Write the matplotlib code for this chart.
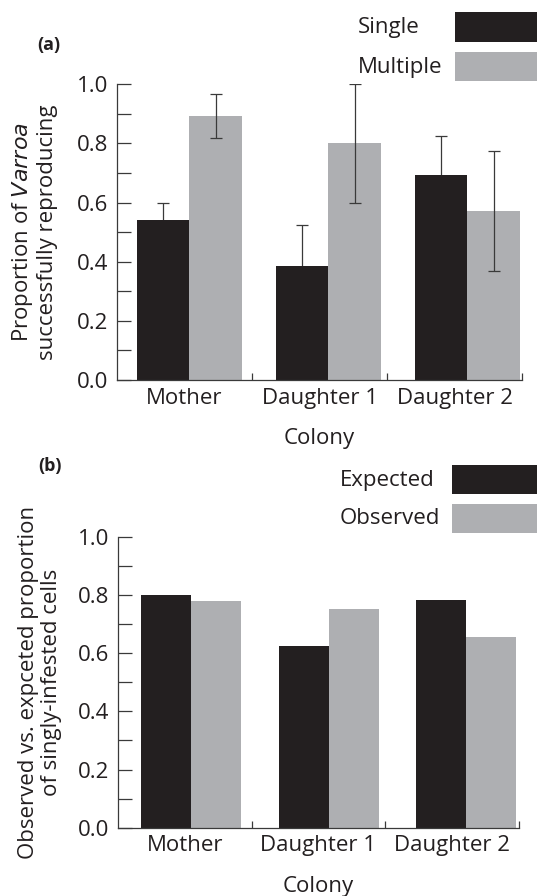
import matplotlib
matplotlib.use("Agg")
import matplotlib.pyplot as plt
from matplotlib.patches import Rectangle
from matplotlib.ticker import MultipleLocator, FixedLocator
import numpy as np

plt.rcParams["font.family"] = ["Open Sans", "DejaVu Sans"]

# ── data ─────────────────────────────────────────────────────────────────────
colonies = ["Mother", "Daughter 1", "Daughter 2"]

single_prop   = [0.54, 0.385, 0.693]
single_err    = [0.06, 0.14, 0.133]
multiple_prop = [0.893, 0.80, 0.571]
multiple_err  = [0.073, 0.20, 0.203]

expected_prop = [0.80, 0.625, 0.783]
observed_prop = [0.779, 0.752, 0.656]

BLACK = "#231f20"
GREY  = "#aeafb2"
LINE  = "#3a3a3a"
FS    = 16

fig = plt.figure(figsize=(5.37, 8.96), dpi=100)
fig.patch.set_facecolor("white")

ax_a = fig.add_axes([0.2179, 0.5759, 0.7542, 0.3300])
ax_b = fig.add_axes([0.2197, 0.0762, 0.7468, 0.3248])


def style_axis(ax, ylabel, label_x):
    ax.set_xlim(-0.5, 2.5)
    ax.set_ylim(0, 1.0)
    for s in ("top", "right"):
        ax.spines[s].set_visible(False)
    for s in ("left", "bottom"):
        ax.spines[s].set_linewidth(0.9)
        ax.spines[s].set_color(LINE)
    ax.yaxis.set_major_locator(MultipleLocator(0.2))
    ax.yaxis.set_minor_locator(MultipleLocator(0.1))
    ax.yaxis.set_major_formatter(matplotlib.ticker.FormatStrFormatter("%.1f"))
    ax.tick_params(axis="y", which="both", direction="in", length=9.8,
                   width=0.9, color=LINE, labelsize=FS, pad=6)
    ax.set_xticks(range(len(colonies)))
    ax.set_xticklabels(colonies, fontsize=FS, color="#231f20")
    ax.xaxis.set_minor_locator(FixedLocator([0.5, 1.5, 2.5]))
    ax.tick_params(axis="x", which="major", length=0, pad=5.5)
    ax.tick_params(axis="x", which="minor", direction="in", length=5,
                   width=0.9, color=LINE)
    ax.set_xlabel("Colony", fontsize=FS, labelpad=14, color="#231f20")
    ax.set_ylabel(ylabel, fontsize=FS, linespacing=1.1, color="#231f20")
    ax.yaxis.set_label_coords(label_x, 0.5)
    for lab in ax.get_yticklabels():
        lab.set_color("#231f20")


x = np.arange(len(colonies)) * 1.03

# ── panel (a) ────────────────────────────────────────────────────────────────
w_a = 0.39
ax_a.bar(x - 0.159, single_prop, width=w_a, color=BLACK, zorder=2)
ax_a.bar(x - 0.159 + w_a, multiple_prop, width=w_a, color=GREY, zorder=2)
# error bars of black bars sit behind them, so only the upper arm shows
ax_a.errorbar(x - 0.159, single_prop, yerr=single_err, fmt="none",
              ecolor=LINE, elinewidth=0.9, capsize=4.3, capthick=0.9, zorder=1)
ax_a.errorbar(x - 0.159 + w_a, multiple_prop, yerr=multiple_err, fmt="none",
              ecolor=LINE, elinewidth=0.9, capsize=4.3, capthick=0.9, zorder=3)
style_axis(ax_a, "Proportion of $\\it{Varroa}$\nsuccessfully reproducing", -0.146)

# ── panel (b) ────────────────────────────────────────────────────────────────
w_b = 0.374
ax_b.bar(x - 0.141, expected_prop, width=w_b, color=BLACK, zorder=2)
ax_b.bar(x - 0.141 + w_b, observed_prop, width=w_b, color=GREY, zorder=2)
style_axis(ax_b, "Observed vs. expceted proportion\nof singly-infested cells", -0.140)

# ── legends & panel letters (figure coords) ──────────────────────────────────
W, H = 537, 896


def swatch(x0, y0, x1, y1, color):
    fig.add_artist(Rectangle((x0 / W, 1 - y1 / H), (x1 - x0) / W, (y1 - y0) / H,
                             transform=fig.transFigure, color=color, lw=0))


def label(x0, yc, s, size=FS, **kw):
    fig.text(x0 / W, 1 - yc / H, s, ha="left", va="center", fontsize=size,
             color="#231f20", **kw)


swatch(455, 12, 540, 42, BLACK)
swatch(455, 52, 540, 81, GREY)
label(358, 27, "Single")
label(358, 67, "Multiple")

swatch(452, 465, 540, 494, BLACK)
swatch(452, 504, 540, 533, GREY)
label(340, 480, "Expected")
label(340, 519, "Observed")

label(37, 45, "(a)", size=13, fontweight="bold")
label(38, 466, "(b)", size=13, fontweight="bold")

plt.savefig("out.png", dpi=100, facecolor="white")
